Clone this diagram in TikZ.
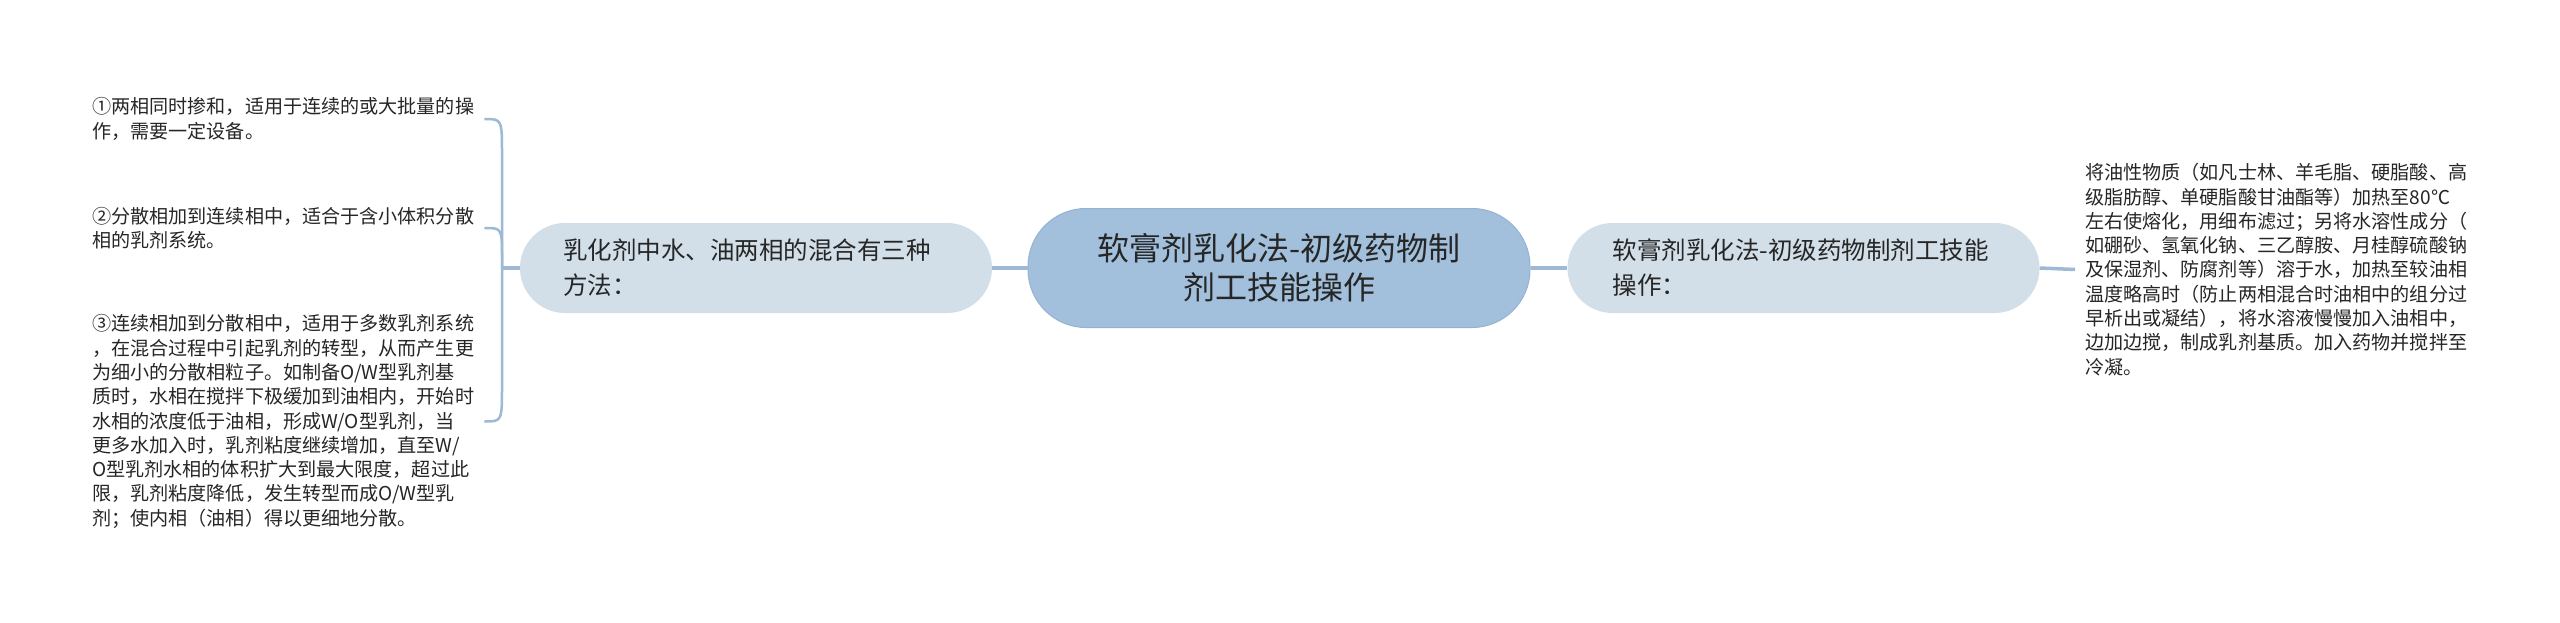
\documentclass[tikz,border=0pt]{standalone}
\usepackage{fontspec}
\setmainfont{Noto Sans CJK SC}
\usetikzlibrary{calc}
\definecolor{rootfill}{HTML}{A2BFDC}
\definecolor{rootborder}{HTML}{94B3D3}
\definecolor{midfill}{HTML}{D2DFE8}
\definecolor{linec}{HTML}{9DB9D5}
\definecolor{textc}{HTML}{262626}
\begin{document}
\begin{tikzpicture}[x=1pt,y=-1pt,
  conn/.style={draw=linec, line width=3.5pt},
  brk/.style={draw=linec, line width=2.5pt},
  rootbox/.style={draw=rootborder, fill=rootfill, line width=1pt, rounded corners=58pt,
    minimum width=502pt, minimum height=119pt, align=center, text=textc,
    font=\fontsize{32}{39}\selectfont},
  midbox/.style={fill=midfill, rounded corners=45pt, minimum height=90pt,
    text width=386pt, inner xsep=43pt, align=left, text=textc,
    font=\fontsize{24.5}{35}\selectfont},
  leaf/.style={align=left, inner xsep=10pt, inner ysep=2pt, text=textc,
    font=\fontsize{19.1}{24.3}\selectfont, anchor=west}]
\fill[white] (0,0) rectangle (2560,623);
\useasboundingbox (0,0) rectangle (2560,623);

\node[rootbox] (root) at (1279,268) {软膏剂乳化法-初级药物制\\剂工技能操作};
\node[midbox] (left) at (756,268) {乳化剂中水、油两相的混合有三种\\方法：};
\node[midbox, text width=382pt, inner xsep=45pt] (right) at (1803.5,268) {软膏剂乳化法-初级药物制剂工技能\\操作：};

\node[leaf] (l1) at (82,119) {①两相同时掺和，适用于连续的或大批量的操\\作，需要一定设备。};
\node[leaf] (l2) at (82,228) {②分散相加到连续相中，适合于含小体积分散\\相的乳剂系统。};
\node[leaf] (l3) at (82,421.5) {③连续相加到分散相中，适用于多数乳剂系统\\，在混合过程中引起乳剂的转型，从而产生更\\为细小的分散相粒子。如制备O/W型乳剂基\\质时，水相在搅拌下极缓加到油相内，开始时\\水相的浓度低于油相，形成W/O型乳剂，当\\更多水加入时，乳剂粘度继续增加，直至W/\\O型乳剂水相的体积扩大到最大限度，超过此\\限，乳剂粘度降低，发生转型而成O/W型乳\\剂；使内相（油相）得以更细地分散。};
\node[leaf] (r1) at (2075,269.5) {将油性物质（如凡士林、羊毛脂、硬脂酸、高\\级脂肪醇、单硬脂酸甘油酯等）加热至80℃\\左右使熔化，用细布滤过；另将水溶性成分（\\如硼砂、氢氧化钠、三乙醇胺、月桂醇硫酸钠\\及保湿剂、防腐剂等）溶于水，加热至较油相\\温度略高时（防止两相混合时油相中的组分过\\早析出或凝结），将水溶液慢慢加入油相中，\\边加边搅，制成乳剂基质。加入药物并搅拌至\\冷凝。};

\draw[conn] (root.west) -- (left.east);
\draw[conn] (root.east) -- (right.west);
\draw[conn] (right.east) -- (r1.west);
\coordinate (J) at (502,268);
\draw[conn] (left.west) -- (J);
\draw[brk] (J) -- ($(J |- l1.east)+(0,36)$) .. controls (J |- l1.east) .. (l1.east);
\draw[brk] (J) -- ($(J |- l2.east)+(0,30)$) .. controls (J |- l2.east) .. (l2.east);
\draw[brk] (J) -- ($(J |- l3.east)+(0,-36)$) .. controls (J |- l3.east) .. (l3.east);
\end{tikzpicture}
\end{document}
